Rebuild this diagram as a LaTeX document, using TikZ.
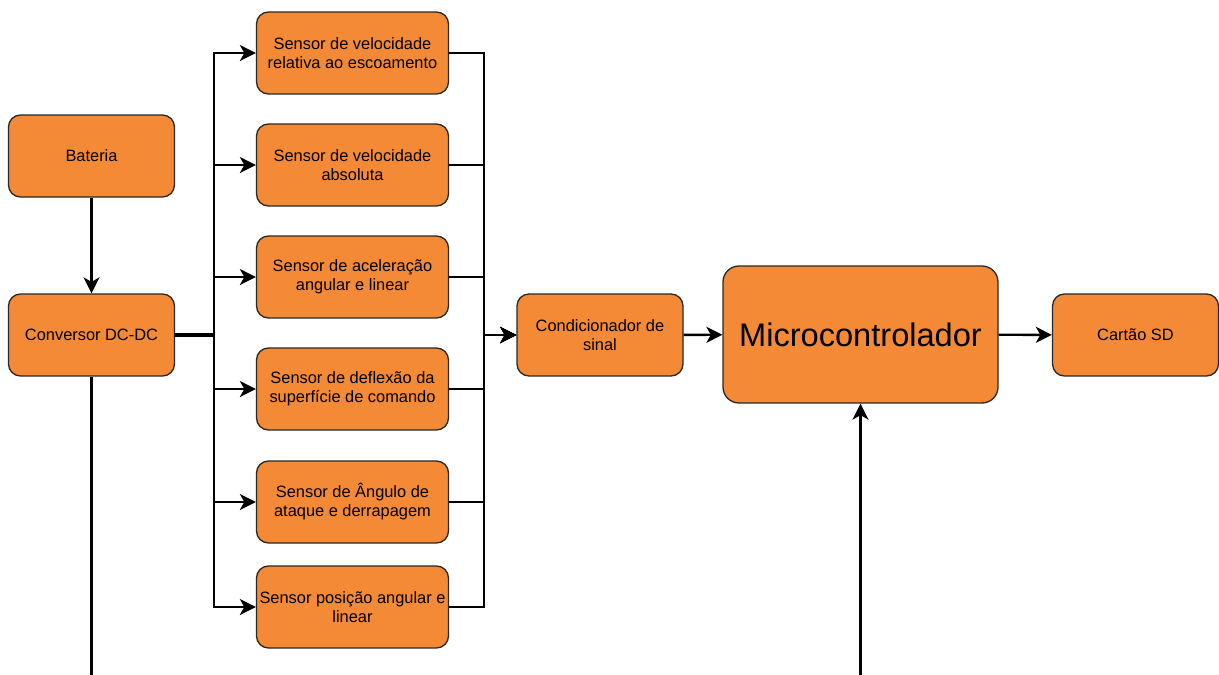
\documentclass[tikz,border=0pt]{standalone}
\usepackage{fontspec}
\setmainfont{Liberation Sans}
\usetikzlibrary{arrows.meta}
\definecolor{boxfill}{RGB}{244,137,54}
\definecolor{boxline}{RGB}{40,40,40}
\tikzset{
  blk/.style={draw=boxline, line width=1.3pt, fill=boxfill, rounded corners=12pt,
    minimum width=#1, minimum height=82pt, inner sep=0pt, align=center,
    font=\fontsize{16.4}{19}\selectfont},
  blk/.default=166pt,
  conn/.style={draw=black, line width=2.4pt},
  arr/.style={conn, -{Stealth[length=16pt,width=16pt,inset=4.5pt]}},
}
\begin{document}
\begin{tikzpicture}[x=1pt,y=-1pt]
\useasboundingbox (0,0) rectangle (1219,675);
% nodes
\node[blk] (bat) at (91.5,156) {Bateria};
\node[blk] (conv) at (91.5,335) {Conversor DC-DC};
\node[blk=192pt] (s1) at (352.5,53) {Sensor de velocidade\\relativa ao escoamento};
\node[blk=192pt] (s2) at (352.5,165) {Sensor de velocidade\\absoluta};
\node[blk=192pt] (s3) at (352.5,277) {Sensor de aceleração\\angular e linear};
\node[blk=192pt] (s4) at (352.5,389) {Sensor de deflexão da\\superfície de comando};
\node[blk=192pt] (s5) at (352.5,502) {Sensor de Ângulo de\\ataque e derrapagem};
\node[blk=192pt] (s6) at (352.5,607) {Sensor posição angular e\\linear};
\node[blk] (cond) at (600,335) {Condicionador de\\sinal};
\node[blk=275pt, minimum height=137pt, rounded corners=16pt, font=\fontsize{32.6}{36}\selectfont] (mc) at (860.5,334.5) {Microcontrolador};
\node[blk] (sd) at (1135.5,335) {Cartão SD};
% coordinates
\coordinate (busL) at (214,335);
\coordinate (busR) at (484,335);
\coordinate (botA) at (91.5,675);
\coordinate (botB) at (860.5,675);
% connectors
\draw[arr] (bat) -- (conv);
\draw[conn, line width=4pt] (conv.east) -- (busL);
\foreach \s in {s1,s2,s3,s4,s5,s6}{
  \draw[arr] (conv.east) -- (busL) |- (\s.west);
  \draw[arr] (\s.east) -| (busR) -- (cond.west);
}
\draw[arr] (cond) -- (mc);
\draw[arr] (mc) -- (sd);
\draw[conn] (conv.south) -- (botA);
\draw[arr] (botB) -- (mc.south);
\end{tikzpicture}
\end{document}
